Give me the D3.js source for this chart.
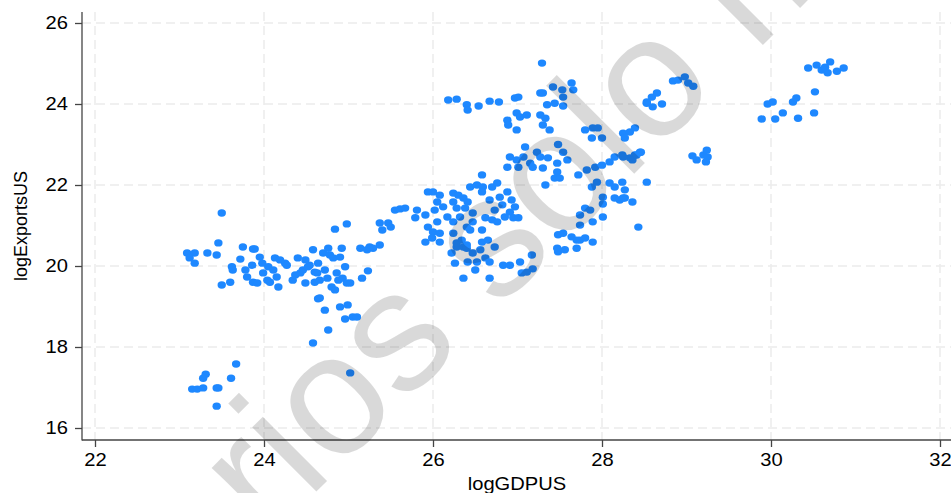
<!DOCTYPE html>
<html>
<head>
<meta charset="utf-8">
<script src="https://cdn.jsdelivr.net/npm/d3@7"></script>
<style>
  body { margin: 0; background: #fff; }
  text { font-family: "Liberation Sans", Arial, Helvetica, sans-serif; }
</style>
</head>
<body>
<svg id="vis"></svg>
<script>
// ticks
var xTicks = [22, 24, 26, 28, 30, 32];
var yTicks = [16, 18, 20, 22, 24, 26];

// logGDPUS / logExportsUS
var logGDPUS = [
    // left cluster
    23.09,23.18,23.12,23.18,23.33,23.46,23.44,23.50,23.60,23.62,
    23.63,23.72,23.75,23.78,23.80,23.87,23.89,23.86,23.87,23.92,
    23.95,23.98,23.99,24.04,24.05,24.07,24.11,24.13,24.15,24.17,
    24.19,24.25,24.27,24.34,24.37,24.40,24.43,24.46,24.49,24.54,
    24.58,24.60,24.63,24.64,
    // low group + outliers
    23.15,23.21,23.28,23.28,23.31,23.44,23.46,23.44,23.61,23.67,24.58,23.50,
    // 24.5 - 25.4
    24.49,24.52,24.60,24.64,24.66,24.70,24.72,24.75,24.78,24.80,
    24.82,24.84,24.86,24.88,24.90,24.92,24.93,24.96,24.98,24.99,
    25.02,24.66,24.72,24.76,24.90,24.96,25.05,25.10,25.16,25.23,
    25.02,25.14,25.22,25.29,25.37,25.91,26.08,
    // middle, bottom
    26.22,26.26,26.28,26.36,26.40,26.41,26.47,26.50,26.52,26.56,
    26.62,26.67,26.36,26.67,26.83,26.91,27.03,27.05,27.11,27.18,
    27.17,27.48,27.56,27.70,27.74,27.89,26.58,
    // upper band
    27.29,27.64,27.66,26.18,26.28,26.40,26.41,26.54,26.67,26.78,
    26.97,27.01,27.27,27.30,27.42,27.53,27.54,27.35,27.44,27.54,
    26.88,26.89,26.99,27.03,27.11,26.99,27.27,27.33,27.30,27.38,
    27.80,27.89,27.95,27.88,28.00,28.25,28.33,28.39,28.27,28.53,
    // 27 - 28.5
    27.09,27.23,27.48,27.54,26.91,26.99,27.07,27.15,27.27,27.36,
    27.47,27.59,26.88,27.01,27.18,27.30,27.47,27.44,27.50,27.33,
    27.72,27.82,27.92,28.00,28.09,28.15,28.24,28.33,28.39,28.45,
    27.88,27.94,28.09,28.15,28.24,28.27,28.15,28.21,28.27,28.36,
    28.01,28.01,28.53,27.80,27.86,27.74,27.89,28.01,27.74,28.43,
    // central cluster
    26.58,25.94,26.00,26.08,26.24,26.30,26.36,26.44,26.52,26.59,
    26.70,26.76,26.58,26.67,26.79,26.88,26.93,26.97,26.82,26.73,
    26.91,26.05,26.12,26.24,26.28,26.38,26.41,26.47,26.17,26.24,
    26.32,26.40,26.47,26.62,26.70,26.76,26.85,26.95,27.01,26.02,
    26.05,26.00,26.08,25.94,25.99,26.24,26.28,26.34,26.44,26.58,
    26.65,26.73,26.40,
    // 25 - 26 strip, 27.5 low
    25.55,25.61,25.67,25.81,25.79,25.91,25.37,25.40,25.47,25.50,
    24.84,24.98,24.76,25.25,27.48,27.54,27.64,27.70,27.80,27.47,
    // right side
    28.84,28.90,28.98,29.02,29.08,28.53,28.59,28.65,28.60,28.71,
    28.25,28.36,28.41,28.46,29.07,29.12,29.20,29.24,29.25,29.23,
    28.25,29.89,30.05,30.14,29.96,30.02,30.26,30.30,30.32,30.51,
    30.52,30.44,30.54,30.60,30.67,30.70,30.64,30.78,30.86
];

var logExportsUS = [
    // left cluster
    20.32,20.32,20.20,20.07,20.32,20.57,20.27,19.53,19.60,19.98,
    19.90,20.17,20.47,19.90,19.73,20.42,20.42,20.02,19.60,19.58,
    20.22,20.07,19.83,19.65,19.98,19.60,19.90,20.20,19.73,19.48,
    20.15,20.07,20.02,19.65,19.78,20.20,19.83,19.90,19.58,20.02,
    20.40,19.60,19.83,19.19,
    // low group + outliers
    16.96,16.96,16.99,17.23,17.33,16.99,16.99,16.54,17.23,17.58,18.10,21.31,
    // 24.5 - 25.4
    20.15,19.98,19.85,20.07,19.65,20.32,19.90,19.70,20.27,19.48,
    20.20,19.41,19.83,19.65,20.22,20.44,19.70,19.98,19.58,19.04,
    19.58,19.21,18.91,18.42,18.99,18.69,18.74,18.74,19.70,19.88,
    17.36,20.44,20.40,20.44,20.52,20.59,20.59,
    // middle, bottom
    20.32,20.07,20.47,20.47,20.52,20.10,20.32,19.90,20.10,20.40,
    20.20,20.10,19.70,19.70,20.02,20.02,20.10,19.83,19.85,19.93,
    20.27,20.35,20.40,20.44,20.64,20.59,20.59,
    // upper band
    25.01,24.52,24.35,24.10,24.12,23.98,23.85,23.95,24.07,24.05,
    24.15,24.17,24.27,24.27,24.42,24.35,24.17,23.98,24.02,23.95,
    23.60,23.48,23.78,23.68,23.73,23.36,23.73,23.65,23.48,23.36,
    23.36,23.41,23.41,23.16,23.16,23.28,23.31,23.41,23.16,24.02,
    // 27 - 28.5
    22.94,22.81,23.00,22.81,22.69,22.62,22.69,22.54,22.69,22.67,
    22.54,22.62,22.44,22.44,22.44,22.42,22.32,22.17,22.17,22.00,
    22.25,22.37,22.44,22.49,22.57,22.69,22.74,22.67,22.74,22.81,
    21.95,22.07,22.05,21.95,22.07,21.88,21.68,21.63,21.68,21.58,
    21.70,21.53,22.07,21.43,21.38,21.26,21.09,21.21,21.01,20.96,
    // central cluster
    22.25,21.83,21.83,21.75,21.80,21.75,21.68,21.95,22.00,21.95,
    21.95,22.05,21.83,21.63,21.70,21.83,21.63,21.46,21.51,21.38,
    21.33,21.58,21.46,21.58,21.43,21.43,21.58,21.31,21.21,21.09,
    21.21,20.96,21.09,21.19,21.14,21.09,21.21,21.19,21.19,21.38,
    21.09,20.84,20.81,20.96,20.69,20.81,20.57,20.64,20.89,20.89,
    20.64,20.47,20.44,
    // 25 - 26 strip, 27.5 low
    21.38,21.41,21.43,21.38,21.19,21.26,21.06,20.89,21.06,20.96,
    20.91,21.04,20.44,20.47,20.77,20.81,20.72,20.64,20.69,20.44,
    // right side
    24.57,24.59,24.67,24.52,24.44,24.05,24.17,24.27,23.93,24.00,
    22.69,22.62,22.74,22.81,22.72,22.62,22.74,22.86,22.69,22.57,
    21.68,23.63,23.63,23.78,24.00,24.05,24.05,24.15,23.65,23.78,
    24.30,24.89,24.96,24.84,24.77,25.04,24.91,24.81,24.89
];

var xTitle = "logGDPUS";
var yTitle = "logExportsUS";
var watermark = "usuarios solo miembros";


function drawChart(){
    var width = 951, height = 493;
    var axisX = 82, axisY = 440, plotTop = 12;
    var stretch = "scale(1.12,1)";

    var svg = d3.select("#vis")
        .attr("width", width)
        .attr("height", height);

    var x = d3.scaleLinear().domain([22, 32]).range([95, 940]);
    var y = d3.scaleLinear().domain([16, 26]).range([428, 23]);

    //grid
    svg.append("g").selectAll("line")
        .data(xTicks)
        .enter().append("line")
        .attr("x1", function(d) {return x(d);})
        .attr("x2", function(d) {return x(d);})
        .attr("y1", plotTop)
        .attr("y2", axisY)
        .attr("stroke", "#ebebeb")
        .attr("stroke-width", 1.5)
        .attr("stroke-dasharray", "9,5");

    svg.append("g").selectAll("line")
        .data(yTicks)
        .enter().append("line")
        .attr("x1", axisX)
        .attr("x2", width)
        .attr("y1", function(d) {return y(d);})
        .attr("y2", function(d) {return y(d);})
        .attr("stroke", "#ebebeb")
        .attr("stroke-width", 1.5)
        .attr("stroke-dasharray", "9,5");

    //points
    svg.append("g").selectAll("ellipse")
        .data(logGDPUS)
        .enter().append("ellipse")
        .attr("cx", function(d) {return x(d);})
        .attr("cy", function(d, i) {return y(logExportsUS[i]);})
        .attr("rx", 4.2)
        .attr("ry", 3.7)
        .attr("fill", "#1e88ff");

    //axes
    var yAxis = svg.append("g")
        .attr("transform", "translate(" + axisX + ",0)")
        .call(d3.axisLeft(y).tickValues(yTicks).tickSize(7).tickPadding(5.5).tickSizeOuter(0));
    var xAxis = svg.append("g")
        .attr("transform", "translate(0," + axisY + ")")
        .call(d3.axisBottom(x).tickValues(xTicks).tickSize(7).tickPadding(6).tickSizeOuter(0));

    [xAxis, yAxis].forEach(function(a) {
        a.select(".domain").remove();
        a.selectAll(".tick line").attr("stroke", "#444").attr("stroke-width", 1.3);
        a.selectAll(".tick text")
            .attr("fill", "#000")
            .style("font-size", "18px")
            .attr("transform", stretch);
    });

    svg.append("line")
        .attr("x1", axisX).attr("x2", axisX)
        .attr("y1", plotTop).attr("y2", axisY + 0.6)
        .attr("stroke", "#444").attr("stroke-width", 1.3);
    svg.append("line")
        .attr("x1", axisX).attr("x2", width)
        .attr("y1", axisY).attr("y2", axisY)
        .attr("stroke", "#444").attr("stroke-width", 1.3);

    //titles
    svg.append("text")
        .attr("transform", "translate(517,490) " + stretch)
        .attr("text-anchor", "middle")
        .style("font-size", "18px")
        .text(xTitle);

    svg.append("text")
        .attr("transform", "translate(27,226) rotate(-90)")
        .attr("text-anchor", "middle")
        .style("font-size", "18px")
        .text(yTitle);

    //watermark on top
    svg.append("text")
        .attr("transform", "translate(4,804) rotate(-45)")
        .style("font-size", "172px")
        .attr("fill", "#000")
        .attr("fill-opacity", 0.15)
        .text(watermark);
}

drawChart();
</script>
</body>
</html>
